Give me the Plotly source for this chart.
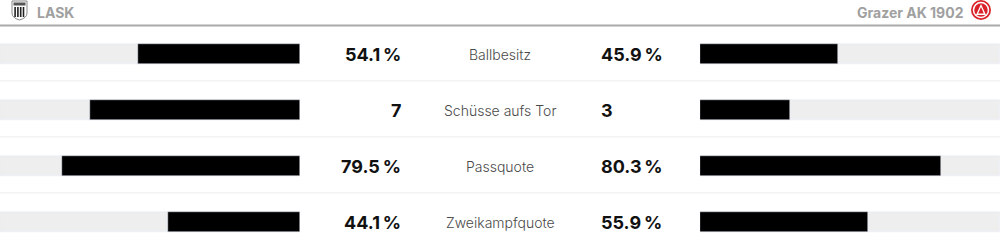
import plotly.graph_objects as go

# ---- data ----
home_team = "LASK"
away_team = "Grazer AK 1902"
stats = ["Ballbesitz", "Schüsse aufs Tor", "Passquote", "Zweikampfquote"]
home_values = [54.1, 7, 79.5, 44.1]
away_values = [45.9, 3, 80.3, 55.9]
is_percent = [True, False, True, True]

# bar lengths (percent of the half-track)
home_bar, away_bar = [], []
for h, a, p in zip(home_values, away_values, is_percent):
    if p:
        home_bar.append(h)
        away_bar.append(a)
    else:
        tot = h + a
        home_bar.append(100 * h / tot)
        away_bar.append(100 * a / tot)

def fmt(v, p):
    return (f"{v:.1f}\u2009%" if p else f"{v:g}")

W, H = 1000, 245
BG = "#eeeeee"
FG = "#000000"
bw = 0.37

fig = go.Figure()
fig.add_trace(go.Bar(y=stats, x=[100] * len(stats), orientation="h", marker_color=BG,
                     width=bw, xaxis="x", yaxis="y", hoverinfo="skip", showlegend=False))
fig.add_trace(go.Bar(y=stats, x=home_bar, orientation="h", marker_color=FG,
                     width=bw, xaxis="x", yaxis="y", showlegend=False, name=home_team))
fig.add_trace(go.Bar(y=stats, x=[100] * len(stats), orientation="h", marker_color=BG,
                     width=bw, xaxis="x2", yaxis="y", hoverinfo="skip", showlegend=False))
fig.add_trace(go.Bar(y=stats, x=away_bar, orientation="h", marker_color=FG,
                     width=bw, xaxis="x2", yaxis="y", showlegend=False, name=away_team))

ann = []
valfont = dict(family="Inter, Lato, sans-serif", size=18, color="#111111", weight="bold")
labfont = dict(family="Inter, Lato, sans-serif", size=14, color="#4a4a4a", weight=300)
for i, (s, h, a, p) in enumerate(zip(stats, home_values, away_values, is_percent)):
    ann.append(dict(x=0.4025, xref="paper", y=s, yref="y", text=fmt(h, p), showarrow=False,
                    xanchor="right", yanchor="middle", font=valfont))
    ann.append(dict(x=0.5, xref="paper", y=s, yref="y", text=s, showarrow=False,
                    xanchor="center", yanchor="middle", font=labfont))
    ann.append(dict(x=0.5985, xref="paper", y=s, yref="y", text=fmt(a, p), showarrow=False,
                    xanchor="left", yanchor="middle", font=valfont))

hdrfont = dict(family="Inter, Lato, sans-serif", size=14, color="#a0a0a0", weight="bold")
ann.append(dict(x=35 / W, xref="paper", y=1 - 12 / H, yref="paper", text=home_team,
                showarrow=False, xanchor="left", yanchor="middle", font=hdrfont))
ann.append(dict(x=966 / W, xref="paper", y=1 - 12 / H, yref="paper", text=away_team,
                showarrow=False, xanchor="right", yanchor="middle", font=hdrfont))

shapes = []
# header rule
shapes.append(dict(type="line", xref="paper", yref="paper", x0=0, x1=1,
                   y0=1 - 25.5 / H, y1=1 - 25.5 / H, line=dict(color="#aaaaaa", width=2)))
# row separators
for i in range(len(stats) - 1):
    shapes.append(dict(type="line", xref="paper", yref="y", x0=0, x1=1,
                       y0=i + 0.48, y1=i + 0.48, line=dict(color="#ececec", width=1)))

def px(x, y):
    return f"{x / W:.5f},{1 - y / H:.5f}"

# LASK shield logo
shield = ("M " + px(12, 1) + " L " + px(27, 1) + " L " + px(27, 13) +
          " Q " + px(27, 18) + " " + px(19.5, 20) + " Q " + px(12, 18) + " " + px(12, 13) + " Z")
shapes.append(dict(type="path", xref="paper", yref="paper", path=shield,
                   fillcolor="#ffffff", line=dict(color="#888888", width=1)))
for k in range(4):
    x0 = 14.3 + k * 2.8
    shapes.append(dict(type="rect", xref="paper", yref="paper", x0=x0 / W, x1=(x0 + 1.6) / W,
                       y0=1 - 17 / H, y1=1 - 7 / H, fillcolor="#222222", line_width=0))
shapes.append(dict(type="rect", xref="paper", yref="paper", x0=13.5 / W, x1=25.5 / W,
                   y0=1 - 5.5 / H, y1=1 - 2.5 / H, fillcolor="#555555", line_width=0))

# GAK round logo
cx, cy, r = 981, 10, 10
shapes.append(dict(type="circle", xref="paper", yref="paper", x0=(cx - r) / W, x1=(cx + r) / W,
                   y0=1 - (cy + r) / H, y1=1 - (cy - r) / H, fillcolor="#d9222a", line_width=0))
shapes.append(dict(type="circle", xref="paper", yref="paper", x0=(cx - 7.5) / W, x1=(cx + 7.5) / W,
                   y0=1 - (cy + 7.5) / H, y1=1 - (cy - 7.5) / H, fillcolor="rgba(0,0,0,0)",
                   line=dict(color="#ffffff", width=1.5)))
tri = "M " + px(cx, cy - 6) + " L " + px(cx + 5, cy + 5) + " L " + px(cx - 5, cy + 5) + " Z"
shapes.append(dict(type="path", xref="paper", yref="paper", path=tri,
                   fillcolor="#ffffff", line_width=0))
tri2 = "M " + px(cx, cy - 3) + " L " + px(cx + 2.8, cy + 3.5) + " L " + px(cx - 2.8, cy + 3.5) + " Z"
shapes.append(dict(type="path", xref="paper", yref="paper", path=tri2,
                   fillcolor="#d9222a", line_width=0))

row_pitch = 56
first_center = 54
y_top = -first_center / row_pitch
y_bot = y_top + H / row_pitch

fig.update_layout(
    width=W, height=H, margin=dict(l=0, r=0, t=0, b=0),
    paper_bgcolor="#ffffff", plot_bgcolor="#ffffff",
    barmode="overlay", bargap=0,
    xaxis=dict(domain=[0, 0.3], range=[100, 0], visible=False, fixedrange=True),
    xaxis2=dict(domain=[0.7, 1.0], range=[0, 100], visible=False, anchor="y", fixedrange=True),
    yaxis=dict(type="category", categoryorder="array", categoryarray=stats,
               range=[y_bot, y_top], visible=False, fixedrange=True),
    annotations=ann, shapes=shapes,
)

fig.write_html("out.html", config={"displayModeBar": False})
